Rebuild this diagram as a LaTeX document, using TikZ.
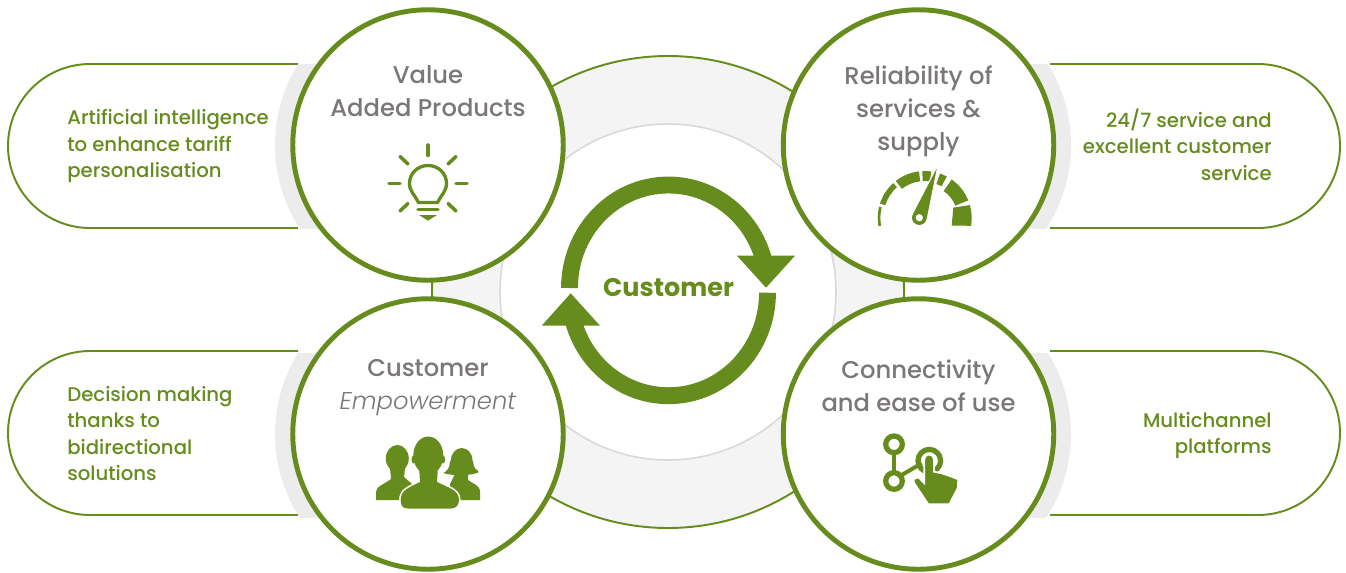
\documentclass[tikz,border=0pt]{standalone}
\usepackage{fontspec}
\setmainfont{Poppins Medium}[ItalicFont=Poppins Light Italic, BoldFont=Poppins Bold]
\definecolor{leaf}{HTML}{668C1E}
\definecolor{slate}{HTML}{7B7779}
\definecolor{ringgray}{HTML}{F4F4F4}
\definecolor{rimgray}{HTML}{D9D9D9}
\definecolor{halogray}{HTML}{ECECEC}
\tikzstyle{hub}=[circle, draw=leaf, fill=white, line width=2.8pt, inner sep=0pt, outer sep=0pt, minimum size=5.41cm]
\tikzstyle{hubtext}=[text=slate, align=center, inner sep=0pt, font=\fontsize{13.8}{18.7}\selectfont]
\tikzstyle{pilltext}=[text=leaf, inner sep=0pt, font=\fontsize{11.2}{15.1}\selectfont]
\tikzstyle{pill}=[draw=leaf, fill=white, line width=1.1pt]
\tikzstyle{ray}=[draw=leaf, line width=2pt, line cap=round]
\tikzstyle{bulbline}=[draw=leaf, line width=1.9pt]
\tikzstyle{ringline}=[draw=leaf, line width=3pt]
\tikzstyle{swirl}=[draw=leaf, line width=9.6pt]
\newcommand{\hub}{\node[hub]}
\newcommand{\halo}[3]{\begin{scope}\clip (#1,#2-81) rectangle (#3,#2+83);
\fill[halogray] (#1,#2) circle [radius=153];\end{scope}}
\newcommand{\dial}[3]{\fill[leaf] (924.7,218) ++(#1:47) arc [start angle=#1, end angle=#2, radius=47]
  -- ++(#2:-#3) arc [start angle=#2, end angle=#1, radius=47-#3] -- cycle;}
\newcommand{\frontfigure}[1]{\path[#1] (428.3,455.5) ellipse [x radius=15, y radius=19];
  \path[#1] (413.5,459.5) ellipse [x radius=2, y radius=4];
  \path[#1] (443.1,459.5) ellipse [x radius=2, y radius=4];
  \path[#1] (419,466) -- (438,466) -- (437,482) .. controls (449,488) and (459,490) .. (459,500) .. controls (459,505) and (456,508.5) .. (451,508.5)
  -- (408,508.5) .. controls (402,508.5) and (400.7,505) .. (400.7,500) .. controls (400.7,490) and (408,488) .. (420,482) -- cycle;}
\begin{document}
\begin{tikzpicture}[x=0.02cm, y=-0.02cm]
\useasboundingbox (0,0) rectangle (1346,572);
\fill[white] (0,0) rectangle (1346,572);
\draw[fill=ringgray, draw=leaf, line width=1.1pt] (668,292) circle [radius=236];
\draw[fill=white, draw=rimgray, line width=.9pt] (668,292) circle [radius=168];
\draw[pill] (298,64) -- (90,64) arc [start angle=270, end angle=90, radius=82] -- (298,228);
\draw[pill] (298,351) -- (90,351) arc [start angle=270, end angle=90, radius=82] -- (298,515);
\draw[pill] (1050,64) -- (1258,64) arc [start angle=-90, end angle=90, radius=82] -- (1050,228);
\draw[pill] (1050,351) -- (1258,351) arc [start angle=-90, end angle=90, radius=82] -- (1050,515);
\halo{428}{145}{260}
\halo{918}{145}{1090}
\halo{428}{434}{260}
\halo{918}{434}{1090}
\hub (value) at (428,145) {};
\hub (reliability) at (918.5,145) {};
\hub (empowerment) at (428,434) {};
\hub (connectivity) at (918.5,434) {};
\node[hubtext] (valuetext) at (428,91.5) {Value\\Added Products};
\node[hubtext] (reliabilitytext) at (918.5,111) {Reliability of\\services \&\\supply};
\node[hubtext] (empowermenttext) at (428,388) {Customer\\\textit{Empowerment}};
\node[hubtext] (connectivitytext) at (918.5,385.5) {Connectivity\\and ease of use};
\node[pilltext, align=left, anchor=west] (aitext) at (67,146) {Artificial intelligence\\to enhance tariff\\personalisation};
\node[pilltext, align=left, anchor=west] (decisiontext) at (67,433.5) {Decision making\\thanks to\\bidirectional\\solutions};
\node[pilltext, align=right, anchor=east] (servicetext) at (1272,144.5) {24/7 service and\\excellent customer\\service};
\node[pilltext, align=right, anchor=east] (platformtext) at (1272,435.5) {Multichannel\\platforms};
\draw[swirl] (569.5,288) arc [start angle=180, end angle=350, x radius=99, y radius=103];
\draw[swirl] (767.5,292.7) arc [start angle=0, end angle=170, x radius=99, y radius=103];
\fill[leaf] (737,255.7) -- (795,255.7) -- (766,287.7) -- cycle;
\fill[leaf] (541.7,325.7) -- (600,325.7) -- (570.7,293.3) -- cycle;
\node[text=leaf, inner sep=0pt, font=\fontsize{14.5}{18}\selectfont\bfseries] (customer) at (668.5,288) {Customer};
\draw[ray] (428,145) -- (428,155.5);
\draw[ray] (389,183.7) -- (400,183.7);
\draw[ray] (456,183.7) -- (467,183.7);
\draw[ray] (400,156.5) -- (408,164);
\draw[ray] (456,156.5) -- (448,164);
\draw[ray] (400,211) -- (408,203.5);
\draw[ray] (456,211) -- (448,203.5);
\draw[bulbline] (418.5,202.5) .. controls (414,194) and (409.5,191) .. (409.5,183.5) .. controls (409.5,173) and (418,165.5) .. (428,165.5) .. controls (438,165.5) and (446.5,173) .. (446.5,183.5) .. controls (446.5,191) and (442,194) .. (437.5,202.5) -- cycle;
\draw[ray] (418,209.5) -- (438,209.5);
\fill[leaf] (419,215) -- (437,215) -- (428,220.7) -- cycle;
\dial{170}{194}{2.7}
\dial{198}{228}{5.5}
\dial{232}{263}{10}
\dial{267}{278}{10}
\dial{289}{298}{11}
\dial{305}{338}{14}
\fill[leaf] (924.7,218) ++(344:47) arc [start angle=344, end angle=369.5, radius=47] -- (951.7,225.7) -- (953.3,207.6) -- cycle;
\draw[white, line width=.6pt, fill=leaf] (938.3,164) -- (912.4,213.7) arc [start angle=210, end angle=15, radius=8] -- cycle;
\fill[white] (919.3,217.7) circle [radius=3.6];
\fill[leaf] (397.3,458.5) ellipse [x radius=11.5, y radius=13.5];
\fill[leaf] (390,468) -- (405,468) -- (404,477) -- (412,484) -- (400,500) -- (376,500) -- (376,492) .. controls (376,486) and (385,484) .. (391,479) -- cycle;
\fill[leaf] (461.7,461) ellipse [x radius=11, y radius=13];
\fill[leaf] (450,461) .. controls (450,468) and (447,471) .. (443.5,473) .. controls (450,476) and (473,476) .. (479,472) .. controls (476,470) and (473.5,468) .. (473,461) -- cycle;
\fill[leaf] (455,474) -- (468,474) -- (468,480) .. controls (473,484) and (480,485) .. (480,492) -- (480,500) -- (450,500) -- (450,484) -- cycle;
\frontfigure{draw=white, fill=white, line width=1.8pt}
\frontfigure{fill=leaf}
\draw[ringline] (894,444.3) circle [radius=8.3];
\draw[ringline] (894,481) circle [radius=8.3];
\draw[draw=leaf, line width=2.3pt] (894,452) -- (894,473);
\draw[draw=leaf, line width=2.3pt] (901.7,475) -- (921.7,463.3);
\draw[ringline] (929.3,460.7) circle [radius=11.3];
\draw[white, line width=1pt, fill=leaf] (924.3,483.3) -- (924.3,459.3) arc [start angle=180, end angle=360, radius=4.85] -- (934,471.7) -- (941.7,473.3) -- (950,476) -- (958.3,479.3) -- (957.7,488.3) -- (949.3,504.3) -- (928.3,504.3) -- (914.3,483.3) -- (913.3,479.3) -- (918.3,477.3) -- cycle;
\end{tikzpicture}
\end{document}
